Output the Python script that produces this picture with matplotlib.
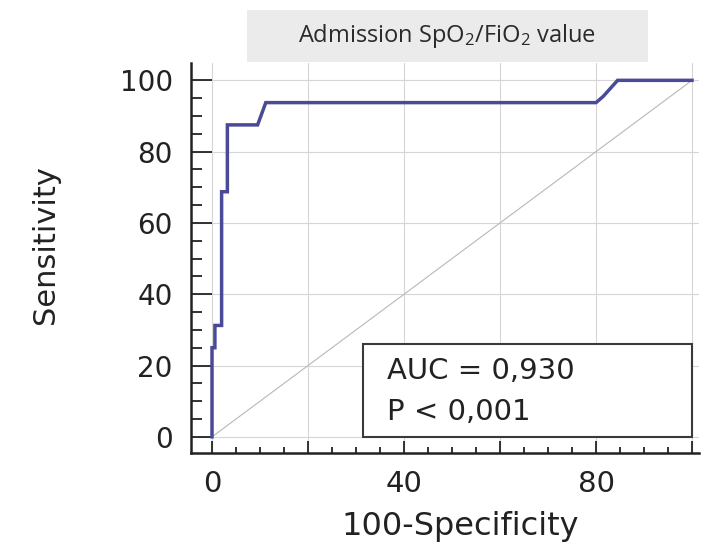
import numpy as np
from matplotlib import pyplot as plt
from matplotlib.patches import Rectangle
from matplotlib.ticker import MultipleLocator, FixedLocator

plt.rcParams['font.family'] = ['DejaVu Sans']
plt.rcParams['mathtext.default'] = 'regular'

# ROC curve (100-specificity, sensitivity)
fpr = [0, 0, 0.6, 0.6, 2, 2, 3.2, 3.2, 9.5, 11.2, 80, 81.5, 82.5, 84.5, 100]
tpr = [0, 25, 25, 31.25, 31.25, 68.75, 68.75, 87.5, 87.5, 93.75, 93.75, 95.5, 97, 100, 100]
xticklabels = ['0', '', '40', '', '80', '']
yticks = [0, 20, 40, 60, 80, 100]
auc_text = 'AUC = 0,930'
p_text = 'P < 0,001'
title = 'Admission SpO$_2$/FiO$_2$ value'

fig = plt.figure(figsize=(7.07, 5.45), dpi=100)
ax = fig.add_axes([0.270, 0.169, 0.719, 0.715])
ax.set_xlim(-4.4, 101.5)
ax.set_ylim(-4.5, 104.8)

ax.grid(True, color='#d6d6d6', lw=0.8)
ax.set_axisbelow(True)
ax.plot([0, 100], [0, 100], color='#b8b8b8', lw=0.8, zorder=2)
ax.plot(fpr, tpr, color='#4a4a96', lw=2.5, zorder=3, solid_joinstyle='miter')

ax.add_patch(Rectangle((31.5, 0), 68.5, 26, fc='white', ec='#3a3a3a', lw=1.5, zorder=4))
ax.text(36.5, 16.2, auc_text, fontsize=21, va='baseline', color='#222222', zorder=5)
ax.text(36.5, 4.6, p_text, fontsize=21, va='baseline', color='#222222', zorder=5)

ax.xaxis.set_major_locator(FixedLocator([0, 20, 40, 60, 80, 100]))
ax.set_xticklabels(xticklabels)
ax.xaxis.set_minor_locator(MultipleLocator(5))
ax.set_yticks(yticks)
ax.yaxis.set_minor_locator(MultipleLocator(5))
ax.tick_params(axis='both', which='both', direction='in', color='#222222', width=1.3,
               labelcolor='#222222')
ax.tick_params(axis='y', which='major', length=15, pad=13, labelsize=20)
ax.tick_params(axis='y', which='minor', length=8)
ax.tick_params(axis='x', which='major', length=9, pad=12, labelsize=21)
ax.tick_params(axis='x', which='minor', length=4)

for s in ['top', 'right']:
    ax.spines[s].set_visible(False)
for s in ['left', 'bottom']:
    ax.spines[s].set_linewidth(1.8)
    ax.spines[s].set_color('#222222')

ax.set_xlabel('100-Specificity', fontsize=23, color='#222222')
ax.xaxis.set_label_coords(0.53, -0.15)
ax.set_ylabel('Sensitivity', fontsize=22, color='#222222')
ax.yaxis.set_label_coords(-0.258, 0.535)

fig.add_artist(Rectangle((0.349, 0.886), 0.567, 0.095, transform=fig.transFigure,
                         fc='#ebebeb', ec='none'))
fig.text(0.632, 0.934, title, fontsize=17, ha='center', va='center', color='#2a2a2a',
         family=['Open Sans', 'DejaVu Sans'])

plt.savefig('out.png', dpi=100)
